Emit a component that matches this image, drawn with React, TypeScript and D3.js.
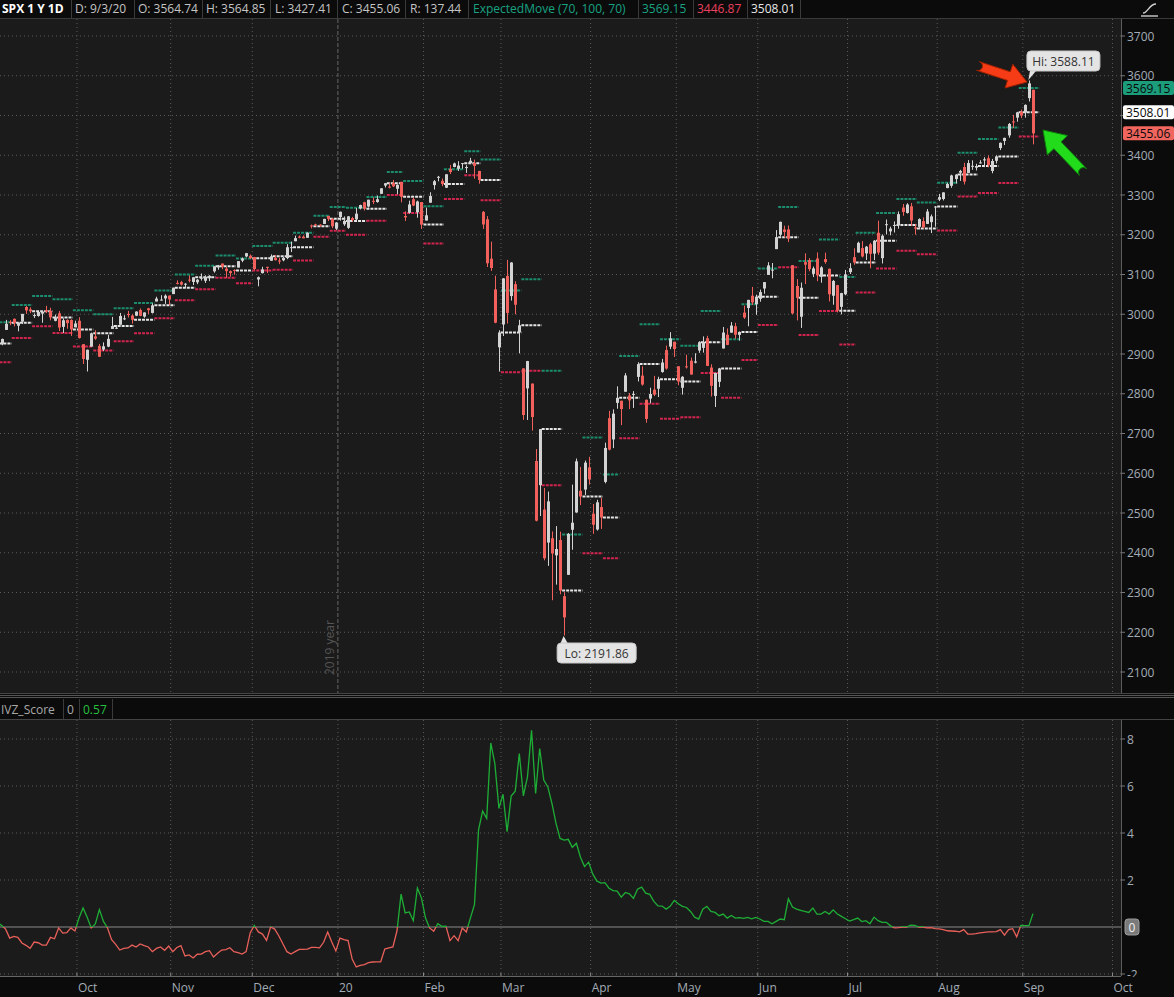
import React from 'react';
import * as d3 from 'd3';

// ---------- DATA (SPX daily O,H,L,C) ----------
const sep2019: number[][] = [
  [2909.01,2914.39,2891.85,2906.27],[2924.67,2938.84,2921.86,2937.78],[2960.60,2985.86,2960.60,2976.00],
  [2980.33,2985.03,2972.51,2978.71],[2988.43,2989.43,2969.39,2978.43],[2971.01,2979.39,2957.01,2979.39],
  [2981.41,3000.93,2975.31,3000.93],[3018.21,3020.74,3000.92,3009.57],[3012.21,3017.33,3002.90,3007.39],
  [2996.41,3002.19,2990.67,2997.96],[2995.67,3006.21,2993.73,3005.70],[3001.50,3007.83,2978.57,3006.73],
  [3010.36,3021.19,3003.16,3006.79],[3008.42,3016.37,2984.68,2992.07],[2983.50,2999.15,2982.23,2991.78],
  [3002.43,3007.98,2957.73,2966.60],[2968.35,2989.82,2952.86,2984.87],[2985.73,2987.28,2963.71,2977.62],
  [2985.47,2987.31,2945.53,2961.79],[2967.07,2983.85,2967.07,2976.74],
];
const oct2019: number[][] = [
  [2983.69,2992.53,2938.70,2940.25],[2924.78,2924.78,2874.93,2887.61],[2885.38,2911.13,2855.94,2910.63],
  [2918.56,2953.74,2918.56,2952.01],[2944.23,2959.75,2935.68,2938.79],[2920.40,2925.47,2892.66,2893.06],
  [2911.10,2929.32,2907.41,2919.40],[2918.55,2948.46,2917.12,2938.13],[2963.07,2993.28,2963.07,2970.27],
  [2965.81,2972.84,2962.94,2966.15],[2973.61,3003.28,2973.61,2995.68],[2989.68,2997.54,2985.20,2989.69],
  [3000.77,3008.29,2991.79,2997.95],[2996.84,3000.00,2976.31,2986.20],[2996.48,3007.33,2995.35,3006.72],
  [3010.73,3014.57,2995.04,2995.99],[2994.01,3004.78,2991.21,3004.52],[3014.78,3016.07,3000.42,3010.29],
  [3003.32,3027.39,3001.94,3022.55],[3032.12,3044.08,3032.12,3039.42],[3035.39,3047.87,3034.81,3036.89],
  [3039.74,3050.10,3025.96,3046.77],[3046.90,3046.90,3023.19,3037.56],
];
const nov2019: number[][] = [
  [3050.72,3066.95,3050.72,3066.91],[3078.96,3085.20,3074.87,3078.27],[3080.80,3083.95,3072.15,3074.62],
  [3075.10,3078.34,3065.89,3076.78],[3087.02,3097.77,3080.23,3085.18],[3081.25,3093.09,3073.58,3093.08],
  [3080.33,3088.33,3075.82,3087.01],[3089.28,3102.61,3084.73,3091.84],[3084.18,3098.06,3078.80,3094.04],
  [3090.75,3098.20,3083.26,3096.63],[3107.92,3120.46,3104.60,3120.46],[3117.91,3124.17,3112.06,3122.03],
  [3127.45,3127.64,3113.47,3120.18],[3114.66,3118.97,3091.41,3108.46],[3108.49,3110.11,3094.55,3103.54],
  [3111.41,3112.87,3099.26,3110.29],[3117.44,3133.83,3117.44,3133.64],[3134.85,3142.69,3131.00,3140.52],
  [3145.49,3154.26,3143.41,3153.63],[3147.18,3150.30,3139.34,3140.98],
];
const dec2019: number[][] = [
  [3143.85,3144.31,3110.78,3113.87],[3087.41,3094.97,3070.33,3093.20],[3103.50,3119.38,3102.53,3112.76],
  [3119.21,3119.45,3103.76,3117.43],[3134.62,3150.60,3134.62,3145.91],[3141.86,3148.87,3135.46,3135.96],
  [3135.36,3142.12,3126.09,3132.52],[3135.75,3143.98,3133.21,3141.63],[3141.23,3176.28,3138.47,3168.57],
  [3166.65,3182.68,3156.51,3168.80],[3183.63,3197.71,3183.63,3191.45],[3195.40,3198.22,3191.03,3192.52],
  [3195.21,3198.48,3191.14,3191.14],[3192.32,3205.48,3192.32,3205.37],[3223.33,3225.65,3216.03,3221.22],
  [3226.05,3227.78,3222.30,3224.01],[3225.45,3226.43,3220.51,3223.38],[3227.20,3240.08,3227.20,3239.91],
  [3247.23,3247.93,3234.37,3240.02],[3240.09,3240.92,3216.57,3221.29],[3215.18,3231.72,3212.03,3230.78],
];
const jan2020: number[][] = [
  [3244.67,3258.14,3235.53,3257.85],[3226.36,3246.15,3222.34,3234.85],[3217.55,3246.84,3214.64,3246.28],
  [3241.86,3244.91,3232.43,3237.18],[3238.59,3267.07,3236.67,3253.05],[3266.03,3275.58,3263.67,3274.70],
  [3281.81,3282.99,3260.86,3265.35],[3271.13,3288.13,3268.43,3288.13],[3285.35,3294.25,3277.19,3283.15],
  [3282.27,3298.66,3280.69,3289.29],[3302.97,3317.11,3302.82,3316.81],[3323.66,3329.88,3318.86,3329.62],
  [3321.03,3329.79,3316.61,3320.79],[3330.02,3337.77,3320.04,3321.75],[3315.77,3326.88,3301.87,3325.54],
  [3333.10,3333.18,3281.53,3295.47],[3247.16,3258.85,3234.50,3243.63],[3255.35,3285.78,3253.22,3276.24],
  [3289.46,3293.47,3271.89,3273.40],[3256.45,3285.91,3242.80,3283.66],[3282.33,3282.33,3214.68,3225.52],
];
const feb2020: number[][] = [
  [3235.66,3268.44,3235.66,3248.92],[3280.61,3306.92,3280.61,3297.59],[3324.91,3337.58,3313.75,3334.69],
  [3344.92,3347.96,3334.39,3345.78],[3335.54,3341.42,3322.12,3327.71],[3318.28,3352.26,3317.77,3352.09],
  [3365.87,3375.63,3352.72,3357.75],[3370.50,3381.47,3369.72,3379.45],[3365.90,3385.09,3360.52,3373.94],
  [3378.08,3380.69,3366.15,3380.16],[3369.04,3375.01,3355.61,3370.29],[3380.39,3393.52,3378.83,3386.15],
  [3380.45,3389.15,3341.02,3373.23],[3360.50,3360.76,3328.45,3337.75],[3257.61,3259.81,3214.65,3225.89],
  [3238.94,3246.99,3118.77,3128.21],[3139.90,3182.51,3108.99,3116.39],[3062.54,3097.07,2977.39,2978.76],
  [2916.90,2959.72,2855.84,2954.22],
];
const mar2020: number[][] = [
  [2974.28,3090.96,2945.19,3090.23],[3096.46,3136.72,2976.63,3003.37],[3045.75,3130.97,3034.38,3130.12],
  [3075.70,3083.04,2999.83,3023.94],[2954.20,2985.93,2901.54,2972.37],[2863.89,2863.89,2734.43,2746.56],
  [2813.48,2882.59,2734.00,2882.23],[2825.60,2825.60,2707.22,2741.38],[2630.86,2660.95,2478.86,2480.64],
  [2569.99,2711.33,2492.37,2711.02],[2508.59,2562.98,2380.94,2386.13],[2425.66,2553.93,2367.04,2529.19],
  [2436.50,2453.57,2280.52,2398.10],[2393.48,2466.97,2319.78,2409.39],[2431.94,2453.01,2295.56,2304.92],
  [2290.71,2300.73,2191.86,2237.40],[2344.44,2449.71,2344.44,2447.33],[2457.77,2571.42,2407.53,2475.56],
  [2501.29,2637.01,2500.72,2630.07],[2555.87,2615.91,2520.02,2541.47],[2558.98,2631.80,2545.28,2626.65],
  [2614.69,2641.39,2571.15,2584.59],
];
const apr2020: number[][] = [
  [2498.08,2522.75,2447.49,2470.50],[2458.54,2533.22,2455.79,2526.90],[2514.92,2538.18,2459.96,2488.65],
  [2578.28,2676.85,2574.57,2663.68],[2738.65,2756.89,2657.67,2659.41],[2685.00,2760.75,2663.30,2749.98],
  [2776.99,2818.57,2762.36,2789.82],[2782.46,2782.46,2721.17,2761.63],[2805.10,2851.85,2805.10,2846.06],
  [2795.64,2801.88,2761.54,2783.36],[2799.34,2806.51,2764.32,2799.55],[2842.43,2879.22,2830.88,2874.56],
  [2845.62,2868.98,2820.43,2823.16],[2784.81,2785.54,2727.10,2736.56],[2787.89,2815.10,2775.95,2799.31],
  [2810.42,2844.90,2794.26,2797.80],[2812.64,2842.71,2791.76,2836.74],[2854.65,2887.72,2852.89,2878.48],
  [2909.96,2921.15,2860.71,2863.39],[2918.46,2954.86,2912.16,2939.51],[2930.91,2930.91,2892.47,2912.43],
];
const may2020: number[][] = [
  [2869.09,2869.09,2821.61,2830.71],[2815.01,2844.24,2797.85,2842.74],[2868.88,2898.23,2863.55,2868.44],
  [2883.14,2891.11,2847.65,2848.42],[2878.26,2901.92,2876.48,2881.19],[2908.83,2932.16,2902.88,2929.80],
  [2915.46,2944.25,2903.44,2930.32],[2939.50,2945.82,2869.59,2870.12],[2865.86,2874.14,2793.15,2820.00],
  [2794.54,2852.80,2766.64,2852.50],[2829.95,2865.01,2816.78,2863.70],[2913.86,2968.09,2913.86,2953.91],
  [2948.59,2964.21,2922.35,2922.94],[2953.63,2980.29,2953.63,2971.61],[2969.95,2978.50,2938.57,2948.51],
  [2948.05,2956.76,2933.59,2955.45],[3004.08,3021.72,2988.17,2991.77],[3015.65,3036.25,2969.75,3036.13],
  [3046.61,3068.67,3023.40,3029.73],[3025.17,3049.17,2998.61,3044.31],
];
const jun2020: number[][] = [
  [3038.78,3062.18,3031.54,3055.73],[3064.78,3081.07,3051.64,3080.82],[3098.90,3130.94,3098.90,3122.87],
  [3111.56,3128.91,3090.41,3112.35],[3163.84,3211.72,3163.84,3193.93],[3199.92,3233.13,3196.00,3232.39],
  [3213.32,3222.71,3193.11,3207.18],[3213.42,3223.27,3181.49,3190.14],[3123.53,3123.53,2999.49,3002.10],
  [3071.04,3088.42,2984.47,3041.31],[2993.76,3079.76,2965.66,3066.59],[3131.00,3153.45,3076.06,3124.74],
  [3136.13,3141.16,3108.03,3113.49],[3101.64,3120.00,3093.51,3115.34],[3140.29,3155.53,3083.11,3097.74],
  [3094.42,3120.92,3079.39,3117.86],[3138.70,3154.90,3127.12,3131.29],[3114.40,3115.01,3032.13,3050.33],
  [3046.60,3086.25,3024.01,3083.76],[3073.20,3073.73,3004.63,3009.05],[3018.59,3053.89,2999.74,3053.24],
  [3050.20,3111.51,3047.83,3100.29],
];
const jul2020: number[][] = [
  [3105.92,3128.44,3101.17,3115.86],[3143.64,3165.81,3124.52,3130.01],[3155.29,3182.59,3155.29,3179.72],
  [3166.44,3184.15,3142.93,3145.32],[3153.07,3171.80,3136.53,3169.94],[3176.17,3179.78,3115.70,3152.05],
  [3152.47,3186.82,3136.22,3185.04],[3205.08,3235.32,3149.43,3155.22],[3141.11,3200.95,3127.66,3197.52],
  [3225.98,3238.28,3200.76,3226.56],[3208.36,3220.39,3198.59,3215.57],[3224.21,3233.52,3205.65,3224.73],
  [3224.29,3258.61,3215.16,3251.84],[3268.52,3277.29,3247.77,3257.30],[3254.86,3279.32,3253.10,3276.02],
  [3271.64,3279.99,3222.66,3235.66],[3218.58,3227.26,3200.05,3215.63],[3219.84,3241.43,3214.25,3239.41],
  [3234.27,3243.72,3216.17,3218.44],[3227.22,3264.74,3227.22,3258.44],[3231.76,3250.92,3204.13,3246.22],
  [3270.45,3272.17,3220.26,3271.12],
];
const aug2020: number[][] = [
  [3288.26,3302.73,3284.53,3294.61],[3289.92,3306.84,3286.37,3306.51],[3317.37,3330.77,3317.37,3327.77],
  [3323.17,3351.03,3318.14,3349.16],[3340.05,3352.54,3328.72,3351.28],[3356.04,3363.29,3335.44,3360.47],
  [3370.34,3381.01,3326.44,3333.69],[3355.46,3387.89,3355.46,3380.35],[3372.95,3387.24,3363.35,3373.43],
  [3368.66,3378.51,3361.64,3372.85],[3380.86,3387.59,3379.22,3381.99],[3387.04,3395.06,3370.15,3389.78],
  [3392.51,3399.54,3369.66,3374.85],[3360.48,3390.80,3354.69,3385.51],[3386.01,3399.96,3379.31,3397.16],
  [3418.09,3432.09,3413.13,3431.28],[3435.95,3444.21,3425.84,3443.62],[3449.97,3481.07,3444.15,3478.73],
  [3485.14,3501.38,3468.35,3484.55],[3494.69,3509.23,3484.32,3508.01],[3509.25,3514.77,3493.25,3500.31],
];
const sep2020: number[][] = [
  [3507.44,3528.03,3494.60,3526.65],[3543.76,3588.11,3535.23,3580.84],[3564.74,3564.85,3427.41,3455.06],
];

// Weekly expected move: first trading-day index of week, centre (prior Friday close), upper, lower
const weekStarts = [0,4,9,14,19,24,29,34,39,44,49,54,59,63,68,73,78,82,86,91,96,100,105,110,115,119,124,129,134,139,144,149,153,158,163,168,173,178,183,187,192,197,202,207,211,216,221,226,231,236,241,246,251];
const emCenter = [2926.46,2978.71,3007.39,2992.07,2961.79,2952.01,2970.27,2986.20,3022.55,3066.91,3093.08,3120.46,3110.29,3140.98,3145.91,3168.80,3221.22,3240.02,3234.85,3265.35,3329.62,3295.47,3225.52,3327.71,3380.16,3337.75,2954.22,2972.37,2711.02,2304.92,2541.47,2488.65,2789.82,2874.56,2836.74,2830.71,2929.80,2863.70,2955.45,3044.31,3193.93,3041.31,3097.74,3009.05,3130.01,3185.04,3224.73,3215.63,3271.12,3351.28,3372.85,3397.16,3508.01];
const emUpper = [2980,3023,3046,3038,3010,3000,3015,3028,3060,3100,3122,3148,3140,3172,3180,3205,3248,3270,3268,3295,3358,3335,3272,3365,3410,3389,3060,3088,2858,2446,2690,2597,2895,2975,2937,2921,3008,2937,3025,3115,3270,3134,3188,3094,3205,3255,3290,3281,3331,3406,3441,3470,3569.15];
const emLower = [2879,2940,2970,2953,2919,2909,2932,2952,2990,3035,3063,3092,3078,3110,3112,3135,3195,3210,3200,3235,3300,3255,3178,3290,3350,3287,2854,2858,2570,2164,2399,2386,2688,2775,2737,2741,2852,2790,2885,2973,3118,2948,3008,2924,3055,3115,3160,3151,3211,3296,3305,3330,3446.87];

// IVZ_Score daily values
const ivz = [
  0.2,0.07,-0.09,-0.47,-0.40,-0.44,-0.68,-0.78,-0.91,-0.64,
  -0.67,-0.77,-0.77,-0.44,-0.50,-0.04,-0.26,-0.24,-0.04,-0.17,
  0.38,0.81,0.41,-0.04,0.13,0.74,0.24,-0.04,-0.54,-0.74,
  -0.98,-0.91,-0.89,-0.77,-0.85,-0.72,-0.79,-0.85,-1.05,-0.91,
  -0.85,-0.99,-0.81,-1.05,-0.87,-0.79,-1.23,-1.19,-1.32,-1.16,
  -1.15,-1.05,-1.01,-1.28,-1.12,-0.98,-0.96,-0.88,-1.05,-1.09,
  -1.15,-1.05,-0.24,0.06,-0.21,-0.30,-0.57,0.0,-0.09,-0.37,
  -0.71,-1.05,-1.15,-1.05,-0.95,-0.95,-0.94,-0.87,-0.87,-0.89,
  -0.65,-0.21,-0.64,-1.02,-0.47,-0.54,-0.58,-1.36,-1.70,-1.63,
  -1.60,-1.52,-1.49,-1.48,-1.48,-0.94,-0.89,-0.85,-0.16,1.40,
  0.60,0.64,0.27,1.66,1.23,0.38,-0.04,-0.18,0.14,0.03,
  0.04,-0.58,-0.37,-0.58,-0.04,-0.21,0.38,0.95,4.13,4.93,
  4.62,7.83,6.95,5.05,5.65,4.06,5.57,5.78,7.38,5.58,
  6.39,8.37,5.68,7.59,6.25,5.96,5.26,4.41,3.77,3.70,
  3.73,3.39,3.56,2.97,2.57,2.76,2.26,1.96,1.87,1.89,
  1.65,1.55,1.53,1.27,1.47,1.41,1.22,1.61,1.70,1.44,
  1.39,1.09,0.90,0.89,0.76,0.88,1.13,0.99,0.88,0.83,
  0.66,0.42,0.34,0.76,0.88,0.66,0.62,0.48,0.55,0.38,
  0.49,0.38,0.40,0.37,0.41,0.35,0.41,0.34,0.24,0.24,
  0.14,0.24,0.34,0.31,1.20,0.85,0.76,0.71,0.66,0.62,
  0.81,0.55,0.55,0.66,0.55,0.73,0.55,0.45,0.35,0.25,
  0.31,0.38,0.23,0.27,0.14,0.42,0.27,0.20,0.20,0.06,
  -0.04,-0.03,0.0,0.0,0.08,0.07,0.0,0.0,-0.04,-0.03,
  -0.07,-0.08,-0.11,-0.16,-0.17,-0.18,-0.21,-0.11,-0.30,-0.30,
  -0.28,-0.25,-0.23,-0.21,-0.21,-0.20,-0.11,-0.35,-0.11,-0.07,
  -0.42,0.07,0.06,0.06,0.57,
];

const monthTickIdx = [20,43,63,84,105,124,146,167,187,209,231,252,274];
const monthLabels = ['Oct','Nov','Dec','20','Feb','Mar','Apr','May','Jun','Jul','Aug','Sep','Oct'];
const yearBoundaryIdx = 84;
const priceTicks = [2100,2200,2300,2400,2500,2600,2700,2800,2900,3000,3100,3200,3300,3400,3500,3600,3700];
const ivzTicks = [-2,2,4,6,8];

const candles = [...sep2019,...oct2019,...nov2019,...dec2019,...jan2020,...feb2020,...mar2020,...apr2020,...may2020,...jun2020,...jul2020,...aug2020,...sep2020];

// ---------- LAYOUT ----------
const W = 1174, H = 997;
const PR = 1121; // plot right
const MT = 19, MB = 693, LT = 720, LB = 976;
const FONT = '"Open Sans", "Noto Sans", sans-serif';
const UP = '#d3d3d3', DOWN = '#f2605b';
const EMG = '#1b8c6c', EMW = '#e6e6e6', EMR = '#d1254e';
const AX = '#a3acb6';

function arrowPath(x1: number, y1: number, x2: number, y2: number, w: number, hl: number, hw: number) {
  const dx = x2 - x1, dy = y2 - y1, L = Math.hypot(dx, dy);
  const ux = dx / L, uy = dy / L, nx = -uy, ny = ux;
  const bx = x2 - ux * hl, by = y2 - uy * hl;
  const p = [
    [x1 + nx * w / 2, y1 + ny * w / 2], [bx + nx * w / 2, by + ny * w / 2], [bx + nx * hw / 2, by + ny * hw / 2],
    [x2, y2], [bx - nx * hw / 2, by - ny * hw / 2], [bx - nx * w / 2, by - ny * w / 2], [x1 - nx * w / 2, y1 - ny * w / 2],
  ];
  return 'M' + p.map(q => q[0].toFixed(1) + ',' + q[1].toFixed(1)).join('L') +
    `A${w / 2},${w / 2} 0 0 1 ${p[0][0].toFixed(1)},${p[0][1].toFixed(1)}Z`;
}

export default function App() {
  const x = d3.scaleLinear().domain([20, 254]).range([79, 1033]);
  const y = d3.scaleLinear().domain([2100, 3700]).range([672, 36]);
  const yL = d3.scaleLinear().domain([-2, 8]).range([974, 739]);
  const half = (x(1) - x(0)) / 2;
  const mx = (i: number) => x(i) - half;

  const last = candles[candles.length - 1];
  let hiI = 0, loI = 0;
  candles.forEach((c, i) => { if (c[1] > candles[hiI][1]) hiI = i; if (c[2] < candles[loI][2]) loI = i; });

  const line = d3.line<number>().x((_, i) => x(i)).y(d => yL(d));
  const ivzPath = line(ivz) || '';
  const y0 = yL(0);

  const headerItems = [
    { t: 'SPX 1 Y 1D', x: 2, c: '#ffffff', b: true },
    { t: 'D: 9/3/20', x: 75, c: '#c4c4c4' },
    { t: `O: ${last[0].toFixed(2)}`, x: 138, c: '#c4c4c4' },
    { t: `H: ${last[1].toFixed(2)}`, x: 206, c: '#c4c4c4' },
    { t: `L: ${last[2].toFixed(2)}`, x: 275, c: '#c4c4c4' },
    { t: `C: ${last[3].toFixed(2)}`, x: 342, c: '#c4c4c4' },
    { t: `R: ${(last[1] - last[2]).toFixed(2)}`, x: 410, c: '#c4c4c4' },
    { t: 'ExpectedMove (70, 100, 70)', x: 473, c: '#19a282' },
    { t: emUpper[emUpper.length - 1].toFixed(2), x: 642, c: '#19a282' },
    { t: emLower[emLower.length - 1].toFixed(2), x: 697, c: '#e8405e' },
    { t: emCenter[emCenter.length - 1].toFixed(2), x: 751, c: '#e6e6e6' },
  ];
  const headerSeps = [71, 134, 202, 270, 337, 405, 468, 638, 693, 747, 800];

  const badges = [
    { v: emUpper[emUpper.length - 1], fill: '#1b9c7a', tc: '#0a0a0a' },
    { v: emCenter[emCenter.length - 1], fill: '#ffffff', tc: '#0a0a0a' },
    { v: last[3], fill: '#f0655e', tc: '#0a0a0a' },
  ];
  // axis labels hidden behind a price badge are not drawn (as in the reference)
  const visibleTicks = priceTicks.filter(p => badges.every(b => Math.abs(y(p) - y(b.v)) > 11));

  const hiX = x(hiI), hiY = y(candles[hiI][1]);
  const loX = x(loI), loY = y(candles[loI][2]);

  return (
    <div style={{ position: 'absolute', left: 0, top: 0 }}>
      <svg width={W} height={H} style={{ display: 'block', fontFamily: FONT }}>
        <defs>
          <clipPath id="mainClip"><rect x={0} y={MT} width={PR} height={MB - MT} /></clipPath>
          <clipPath id="lowClip"><rect x={0} y={LT} width={PR} height={LB - LT} /></clipPath>
          <clipPath id="abv"><rect x={0} y={LT} width={PR} height={y0 - LT} /></clipPath>
          <clipPath id="blw"><rect x={0} y={y0} width={PR} height={LB - y0} /></clipPath>
          <clipPath id="axClip"><rect x={PR} y={LT} width={W - PR} height={LB + 1 - LT} /></clipPath>
        </defs>
        <rect x={0} y={0} width={W} height={H} fill="#0b0b0b" />
        {/* header */}
        <line x1={0} x2={W} y1={18.5} y2={18.5} stroke="#3a3a3a" />
        {headerSeps.map(s => <line key={s} x1={s + 0.5} x2={s + 0.5} y1={0} y2={18} stroke="#3a3a3a" />)}
        {headerItems.map(h => (
          <text key={h.t} x={h.x} y={13} fontSize={12} fill={h.c} fontWeight={h.b ? 700 : 400}>{h.t}</text>
        ))}
        <path d="M1143,13 C1148,13 1149,4 1156,4" fill="none" stroke="#cfcfcf" strokeWidth={1.4} />
        <line x1={1141} x2={1158} y1={16} y2={16} stroke="#cfcfcf" strokeWidth={1.4} />

        {/* main panel */}
        <rect x={0} y={MT} width={PR} height={MB - MT} fill="#1b1b1b" />
        <g clipPath="url(#mainClip)">
          {priceTicks.map(p => (
            <line key={p} x1={0} x2={PR} y1={y(p)} y2={y(p)} stroke="#5a5a5a" strokeDasharray="1 3" />
          ))}
          {monthTickIdx.map(i => i === yearBoundaryIdx ? null : (
            <line key={i} x1={mx(i)} x2={mx(i)} y1={MT} y2={MB} stroke="#5a5a5a" strokeDasharray="1 3" />
          ))}
          <line x1={mx(yearBoundaryIdx)} x2={mx(yearBoundaryIdx)} y1={MT} y2={MB} stroke="#666" strokeDasharray="4 2" />
          <text transform={`translate(${mx(yearBoundaryIdx) - 4},${MB - 18}) rotate(-90)`} fontSize={12} fill="#555">2019 year</text>

          {/* expected move segments */}
          {weekStarts.map((s, k) => {
            const e = k < weekStarts.length - 1 ? weekStarts[k + 1] - 1 : s + 4;
            const x1 = x(s) - half, x2 = x(e) + half;
            return (
              <g key={s}>
                <line x1={x1} x2={x2} y1={y(emUpper[k])} y2={y(emUpper[k])} stroke={EMG} strokeWidth={2} strokeDasharray="3 1" />
                <line x1={x1} x2={x2} y1={y(emCenter[k])} y2={y(emCenter[k])} stroke={EMW} strokeWidth={2} strokeDasharray="3 1" />
                <line x1={x1} x2={x2} y1={y(emLower[k])} y2={y(emLower[k])} stroke={EMR} strokeWidth={2} strokeDasharray="3 1" />
              </g>
            );
          })}

          {/* candles */}
          {candles.map((c, i) => {
            const [o, h, l, cl] = c;
            const col = cl >= o ? UP : DOWN;
            const top = y(Math.max(o, cl)), bot = y(Math.min(o, cl));
            const cx = Math.round(x(i));
            return (
              <g key={i}>
                <line x1={cx + 0.5} x2={cx + 0.5} y1={y(h)} y2={y(l)} stroke={col} strokeWidth={1} />
                <rect x={cx - 1} y={top} width={3} height={Math.max(1, bot - top)} fill={col} />
              </g>
            );
          })}
        </g>

        {/* Hi / Lo callouts */}
        <path d={`M${hiX + 1},${MT + 52} L${hiX - 0.5},${hiY - 0.5} L${hiX + 7},${MT + 52} Z`} fill="#e4e4e4" />
        <rect x={hiX - 2} y={51} width={73} height={20} rx={4} fill="#e4e4e4" stroke="#c8c8c8" />
        <text x={hiX + 34.5} y={65.5} fontSize={12} fill="#333" textAnchor="middle">Hi: {candles[hiI][1].toFixed(2)}</text>

        <path d={`M${loX - 4},644 L${loX - 0.5},${loY + 0.5} L${loX + 4},644 Z`} fill="#e4e4e4" />
        <rect x={loX - 7} y={643} width={79} height={20} rx={4} fill="#e4e4e4" stroke="#c8c8c8" />
        <text x={loX + 32.5} y={657.5} fontSize={12} fill="#333" textAnchor="middle">Lo: {candles[loI][2].toFixed(2)}</text>

        {/* annotation arrows */}
        <path d={arrowPath(978, 66, 1027, 82, 9, 19, 25)} fill="#f53c16" stroke="#a22100" strokeWidth={1} strokeLinejoin="round" />
        <path d={arrowPath(1083, 172, 1043, 130, 10, 21, 28)} fill="#22dc1c" stroke="#0d7e0d" strokeWidth={1} strokeLinejoin="round" />

        {/* right axis main */}
        <line x1={PR + 0.5} x2={PR + 0.5} y1={MT} y2={MB} stroke="#5c5c5c" />
        {priceTicks.map(p => (
          <line key={p} x1={PR} x2={PR + 4} y1={y(p)} y2={y(p)} stroke="#777" />
        ))}
        {visibleTicks.map(p => (
          <text key={p} x={PR + 6} y={y(p) + 4.5} fontSize={12} fill={AX}>{p}</text>
        ))}
        {badges.map(b => (
          <g key={b.v}>
            <rect x={PR + 2} y={y(b.v) - 7} width={W - PR - 2} height={14} rx={2} fill={b.fill} />
            <text x={PR + 5} y={y(b.v) + 4.5} fontSize={12} fill={b.tc}>{b.v.toFixed(2)}</text>
          </g>
        ))}

        {/* panel separator */}
        <line x1={0} x2={W} y1={MB + 0.5} y2={MB + 0.5} stroke="#444" />
        <line x1={0} x2={W} y1={695.5} y2={695.5} stroke="#555" />
        <line x1={0} x2={W} y1={697.5} y2={697.5} stroke="#555" />

        {/* lower header */}
        <text x={1} y={714} fontSize={12} fill="#a8a8a8">IVZ_Score</text>
        <line x1={63.5} x2={63.5} y1={699} y2={719} stroke="#3a3a3a" />
        <text x={67} y={714} fontSize={12} fill="#a8a8a8">0</text>
        <line x1={79.5} x2={79.5} y1={699} y2={719} stroke="#3a3a3a" />
        <text x={83} y={714} fontSize={12} fill="#27c13f">{ivz[ivz.length - 1].toFixed(2)}</text>
        <line x1={112.5} x2={112.5} y1={699} y2={719} stroke="#3a3a3a" />

        {/* lower panel */}
        <rect x={0} y={LT} width={PR} height={LB - LT} fill="#1b1b1b" />
        <line x1={0} x2={W} y1={LT - 0.5} y2={LT - 0.5} stroke="#444" />
        <g clipPath="url(#lowClip)">
          {ivzTicks.map(v => (
            <line key={v} x1={0} x2={PR} y1={yL(v)} y2={yL(v)} stroke="#5a5a5a" strokeDasharray="1 3" />
          ))}
          {monthTickIdx.map(i => (
            <line key={i} x1={mx(i)} x2={mx(i)} y1={LT} y2={LB} stroke="#5a5a5a" strokeDasharray="1 3" />
          ))}
          <line x1={0} x2={PR} y1={y0} y2={y0} stroke="#8a8a8a" strokeWidth={1.2} />
          <path d={ivzPath} fill="none" stroke="#1eae36" strokeWidth={1.3} clipPath="url(#abv)" />
          <path d={ivzPath} fill="none" stroke="#e8605a" strokeWidth={1.3} clipPath="url(#blw)" />
        </g>
        <line x1={PR + 0.5} x2={PR + 0.5} y1={LT} y2={LB} stroke="#5c5c5c" />
        <g clipPath="url(#axClip)">
          {ivzTicks.map(v => (
            <g key={v}>
              <line x1={PR} x2={PR + 4} y1={yL(v)} y2={yL(v)} stroke="#777" />
              <text x={PR + 6} y={yL(v) + 4.5} fontSize={12} fill={AX}>{v}</text>
            </g>
          ))}
        </g>
        <rect x={PR + 4} y={y0 - 8} width={14} height={16} rx={3} fill="#7a7a7a" stroke="#9a9a9a" />
        <text x={PR + 11} y={y0 + 4.5} fontSize={12} fill="#f0f0f0" textAnchor="middle">0</text>

        {/* x axis */}
        <line x1={0} x2={PR} y1={LB + 0.5} y2={LB + 0.5} stroke="#666" />
        {monthTickIdx.map((i, k) => (
          <g key={i}>
            <line x1={mx(i)} x2={mx(i)} y1={LB - 3} y2={LB} stroke="#888" />
            <text x={mx(i) + 1} y={992} fontSize={12} fill={AX}>{monthLabels[k]}</text>
          </g>
        ))}
      </svg>
    </div>
  );
}
